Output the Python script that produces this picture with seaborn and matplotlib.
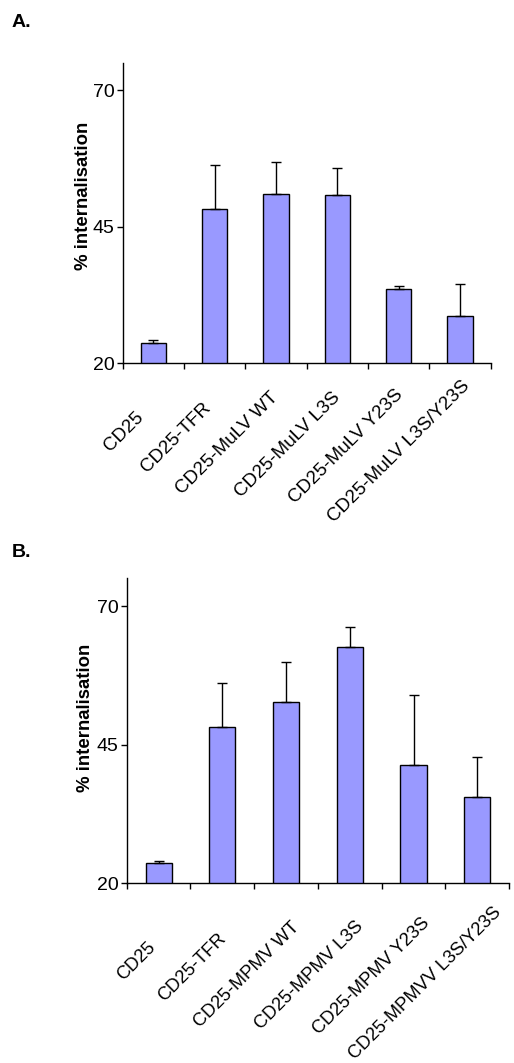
import matplotlib
matplotlib.use("Agg")
import matplotlib.pyplot as plt
from matplotlib.transforms import Affine2D
import seaborn as sns
import pandas as pd
import numpy as np

cats_a = ["CD25", "CD25-TFR", "CD25-MuLV WT", "CD25-MuLV L3S",
          "CD25-MuLV Y23S", "CD25-MuLV L3S/Y23S"]
vals_a = [23.8, 48.2, 51.1, 50.8, 33.7, 28.6]
errs_a = [0.4, 8.1, 5.7, 5.0, 0.4, 5.9]

cats_b = ["CD25", "CD25-TFR", "CD25-MPMV WT", "CD25-MPMV L3S",
          "CD25-MPMV Y23S", "CD25-MPMVV L3S/Y23S"]
vals_b = [23.7, 48.2, 52.7, 62.6, 41.3, 35.5]
errs_b = [0.4, 8.0, 7.3, 3.6, 12.6, 7.2]

yticks = [20, 45, 70]

sns.set_theme(style="ticks")
plt.rcParams['font.family'] = ['Liberation Sans', 'DejaVu Sans']
plt.rcParams['text.color'] = 'black'
plt.rcParams['axes.labelcolor'] = 'black'
plt.rcParams['xtick.color'] = 'black'
plt.rcParams['ytick.color'] = 'black'

fig = plt.figure(figsize=(5.14, 10.63), dpi=100)
ax_a = fig.add_axes([0.2387, 0.6582, 0.716, 0.2825])
ax_b = fig.add_axes([0.2465, 0.1690, 0.744, 0.2869])
renderer = fig.canvas.get_renderer()


def draw(ax, cats, vals, errs, lab_xy, lab_shift, lab_size):
    df = pd.DataFrame({"cat": cats, "val": vals})
    sns.barplot(data=df, x="cat", y="val", ax=ax, color="#9999FF",
                saturation=1, edgecolor="black", linewidth=1.0, width=0.41)
    n = len(cats)
    ax.errorbar(np.arange(n), vals, yerr=[np.zeros(n), errs], fmt="none",
                ecolor="black", elinewidth=1.0, capsize=3.6, capthick=1.0)
    ax.set_xlim(-0.5, n - 0.5)
    ax.set_ylim(20, 75)
    ax.set_yticks(yticks)
    ax.set_yticklabels([str(t) for t in yticks], fontsize=14)
    ax.set_xticks(np.arange(n))
    ax.set_xticklabels([""] * n)
    ax.tick_params(axis="x", which="major", length=0)
    ax.set_xticks(np.arange(n + 1) - 0.5, minor=True)
    ax.tick_params(axis="x", which="minor", length=4, width=1, color="black", direction="out")
    ax.tick_params(axis="y", length=4, width=1, color="black", direction="out", pad=2)
    ax.set_xlabel("")
    ax.set_ylabel("% internalisation", fontsize=13.4, fontweight="bold")
    ax.yaxis.set_label_coords(*lab_xy)
    for s in ["top", "right"]:
        ax.spines[s].set_visible(False)
    for s in ["left", "bottom"]:
        ax.spines[s].set_color("black")
        ax.spines[s].set_linewidth(1.0)
    ax.grid(False)

    # Excel-like rotated category labels: end point drifts with label length
    a, b, gx, gy = lab_shift
    base = ax.get_xaxis_transform()
    for i, cat in enumerate(cats):
        t = ax.text(i, 0, cat, transform=base, rotation=0,
                    rotation_mode="anchor", ha="right", va="top", fontsize=lab_size)
        L = t.get_window_extent(renderer).width
        t.set_rotation(45)
        t.set_transform(base + Affine2D().translate(a + gx * L, -(b - gy * L)))


draw(ax_a, cats_a, vals_a, errs_a, (-0.083, 0.557), (-25.0, 55.5, 0.135, 0.215), 13.6)
draw(ax_b, cats_b, vals_b, errs_b, (-0.085, 0.542), (-19.5, 65.5, 0.17, 0.216), 13.2)

fig.text(12 / 514, 1 - 27 / 1063, "A.", fontsize=14, fontweight="bold", ha="left", va="baseline")
fig.text(12 / 514, 1 - 557 / 1063, "B.", fontsize=14, fontweight="bold", ha="left", va="baseline")

fig.savefig("out.png", dpi=100, facecolor="white")
